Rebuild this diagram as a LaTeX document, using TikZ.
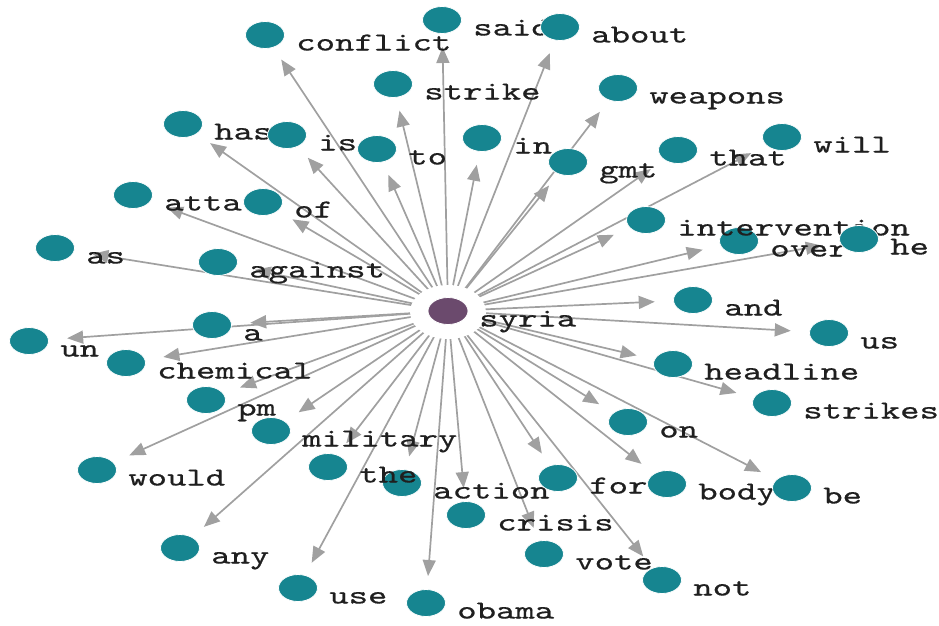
\documentclass[tikz,border=0pt]{standalone}
\usepackage{fontspec}
\newfontfamily\wordfont{lmmono10-regular.otf}[FakeBold=0.5]
\usetikzlibrary{arrows.meta,calc,shapes.geometric,backgrounds}
\definecolor{wordteal}{HTML}{168590}
\definecolor{hubpurple}{HTML}{6B4A6D}
\definecolor{linkgrey}{HTML}{A0A0A0}
\tikzset{
	word/.style={ellipse, fill=wordteal, draw=white, line width=0.8pt, minimum width=39pt, minimum height=27pt, inner sep=0pt},
	wordtext/.style={anchor=base west, inner sep=0pt, xscale=1.42, text=black!88, font=\wordfont\fontsize{26}{26}\selectfont},
	link/.style={linkgrey, line width=1.7pt, -{Triangle[length=16pt,width=13pt]}}
}

\begin{document}
\begin{tikzpicture}[x=1pt, y=-1pt]
	\useasboundingbox (0,0) rectangle (939,625);

	\node[ellipse, fill=white, minimum width=76pt, minimum height=54pt, inner sep=0pt] (halo) at (448,312) {};
	\node[word, fill=hubpurple, minimum width=40pt] (hub) at (448,311) {};

	\foreach \w/\px/\py in {conflict/265/35, said/442/20, about/560/27, strike/393/84, weapons/618/88, has/183/124, is/287/135, to/377/149, in/482/138, gmt/568/162, that/678/150, will/782/137, atta/133/195, of/263/202, over/739/241, intervention/646/220, he/859/239, as/55/248, against/218/262, and/693/300, a/212/325, un/29/341, chemical/126/363, us/829/333, headline/673/364, strikes/772/403, pm/206/400, military/271/431, on/628/422, would/97/470, action/402/483, the/328/467, for/558/478, body/667/484, be/792/488, crisis/466/515, any/180/548, vote/544/554, use/298/588, obama/426/603, not/662/580} {
		\node[word] (w-\w) at (\px,\py) {};
		\node[wordtext] (t-\w) at (\px+31,\py+15.5) {\w};
		\begin{scope}[on background layer]
			\draw[link] let \p1=($(w-\w)-(hub)$) in (hub) -- ($(w-\w)!{27*veclen(\x1,\y1)/veclen(\x1/1.42,\y1)}!(hub)$);
		\end{scope}
	}

	\node[wordtext] (t-syria) at (479,326.5) {syria};
\end{tikzpicture}
\end{document}
